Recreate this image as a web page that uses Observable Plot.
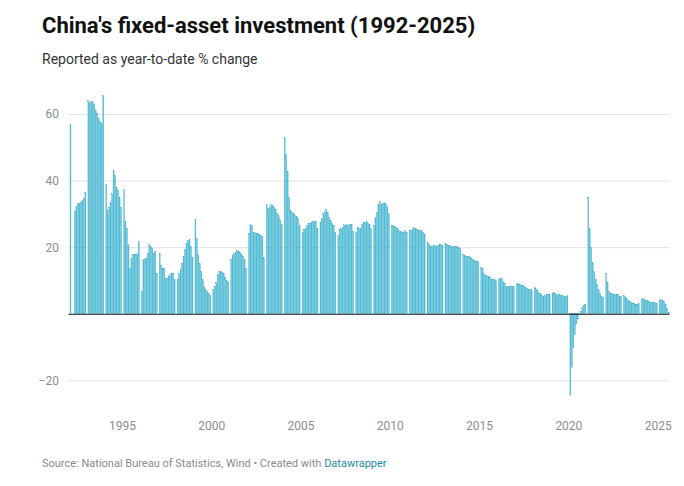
<!DOCTYPE html>
<html>
<head>
<meta charset="utf-8">
<script src="https://cdn.jsdelivr.net/npm/d3@7"></script>
<script src="https://cdn.jsdelivr.net/npm/@observablehq/plot@0.6"></script>
<style>
  html, body { margin: 0; padding: 0; background: #fff; }
  body { width: 684px; height: 486px; position: relative; overflow: hidden; font-family: Roboto, "Noto Sans", sans-serif; }
  #title { position: absolute; left: 42px; top: 14.5px; font-size: 22px; line-height: 22px; font-weight: 700; color: #111; white-space: nowrap; }
  #subtitle { position: absolute; left: 42px; top: 51.5px; font-size: 14px; line-height: 14px; color: #333; white-space: nowrap; }
  #chart { position: absolute; left: 0; top: 80px; }
  #caption { position: absolute; left: 42px; top: 458px; font-size: 11px; line-height: 11px; color: #8a8a8a; white-space: nowrap; }
  #caption span { color: #1f8aa3; }
</style>
</head>
<body>
<div id="title">China's fixed-asset investment (1992-2025)</div>
<div id="subtitle">Reported as year-to-date % change</div>
<div id="chart"></div>
<div id="caption">Source: National Bureau of Statistics, Wind • Created with <span>Datawrapper</span></div>
<script>
// Year-to-date % change, Jan..Dec (null = not reported; Jan is folded into Jan-Feb)
const fai1992 = [null, 57, null, null, 30.8, 32.2, 33, 33.2, 33.5, 34, 34.5, 36.5];
const fai1993 = [null, 64, 63.2, 63.7, 63.7, 62.9, 61.2, 60.2, 58.7, 57.7, 57.2, 65.5];
const fai1994 = [null, 39, 31, 32, 33.5, 36, 43, 41.5, 38, 37, 35, 32];
const fai1995 = [null, 37.2, 27.7, 25.7, 20.7, 13.7, 16.7, 17.9, 17.9, 17.7, 18, 21.7];
const fai1996 = [null, 6.7, 16.2, 16.2, 16.7, 18.2, 20.7, 20.2, 19.7, 18.2, 18.7, 12.2];
const fai1997 = [null, 18.2, 14.5, 13.7, 13.7, 10.7, 10.7, 11.2, 11.7, 12.2, 12.2, 10.2];
const fai1998 = [null, 10.2, 12, 13.2, 15.2, 17.2, 19.2, 21, 22, 22.2, 20.2, 17];
const fai1999 = [null, 28.2, 22.5, 17.7, 15.2, 12.7, 10.2, 8.2, 7.2, 6.7, 6.2, 5.5];
const fai2000 = [null, 7.2, 8.2, 9.5, 11.7, 12.7, 12.7, 12.5, 12.2, 11, 10, 9.5];
const fai2001 = [null, 16.4, 17.4, 18, 18.5, 19, 18.7, 18.5, 17.9, 17.2, 16.2, 13.7];
const fai2002 = [null, 24.2, 26.7, 26.4, 24.4, 24.3, 24.2, 24.2, 23.9, 23.6, 23.2, 16.9];
const fai2003 = [null, 32.7, 31.5, 32, 32.7, 32.5, 32, 31.4, 30.2, 29.4, 28.2, 26.7];
const fai2004 = [null, 53, 47.8, 42.8, 34.8, 31, 30.5, 30.2, 29.5, 29.2, 28.6, 26.6];
const fai2005 = [null, 24.5, 25.3, 25.7, 26.4, 27.1, 27.2, 27.4, 27.7, 27.6, 27.8, 25.7];
const fai2006 = [null, 27.5, 28.5, 30, 30.5, 31.3, 30.5, 29, 28, 27, 26.6, 24.5];
const fai2007 = [null, 23.4, 25.3, 25.5, 25.9, 26.7, 26.6, 26.7, 26.4, 26.9, 26.8, 24.8];
const fai2008 = [null, 24.3, 25.9, 25.7, 25.6, 26.8, 27.3, 27.4, 27.6, 27.2, 26.8, 25.5];
const fai2009 = [null, 26.5, 28.8, 30.5, 32.9, 33.6, 32.9, 33.0, 33.3, 33.1, 32.1, 30.1];
const fai2010 = [null, 26.6, 26.4, 26.1, 25.9, 25.5, 24.9, 24.8, 24.5, 24.4, 24.9, 24.5];
const fai2011 = [null, 24.9, 25.0, 25.4, 25.8, 25.6, 25.4, 25.0, 24.9, 24.9, 24.5, 23.8];
const fai2012 = [null, 21.5, 20.9, 20.2, 20.1, 20.4, 20.4, 20.2, 20.5, 20.7, 20.7, 20.6];
const fai2013 = [null, 21.2, 20.9, 20.6, 20.4, 20.1, 20.1, 20.3, 20.2, 20.1, 19.9, 19.6];
const fai2014 = [null, 17.9, 17.6, 17.3, 17.2, 17.3, 17.0, 16.5, 16.1, 15.9, 15.8, 15.7];
const fai2015 = [null, 13.9, 13.5, 12.0, 11.4, 11.4, 11.2, 10.9, 10.3, 10.2, 10.2, 10.0];
const fai2016 = [null, 10.2, 10.7, 10.5, 9.6, 9.0, 8.1, 8.1, 8.2, 8.3, 8.3, 8.1];
const fai2017 = [null, 8.9, 9.2, 8.9, 8.6, 8.6, 8.3, 7.8, 7.5, 7.3, 7.2, 7.2];
const fai2018 = [null, 7.9, 7.5, 7.0, 6.1, 6.0, 5.5, 5.3, 5.4, 5.7, 5.9, 5.9];
const fai2019 = [null, 6.1, 6.3, 6.1, 5.6, 5.8, 5.7, 5.5, 5.4, 5.2, 5.2, 5.4];
const fai2020 = [null, -24.5, -16.1, -10.3, -6.3, -3.1, -1.6, -0.3, 0.8, 1.8, 2.6, 2.9];
const fai2021 = [null, 35.0, 25.6, 19.9, 15.4, 12.6, 10.3, 8.9, 7.3, 6.1, 5.2, 4.9];
const fai2022 = [null, 12.2, 9.3, 6.8, 6.2, 6.1, 5.7, 5.8, 5.9, 5.8, 5.3, 5.1];
const fai2023 = [null, 5.5, 5.1, 4.7, 4.0, 3.8, 3.4, 3.2, 3.1, 2.9, 2.9, 3.0];
const fai2024 = [null, 4.2, 4.5, 4.2, 4.0, 3.9, 3.6, 3.4, 3.4, 3.4, 3.3, 3.2];
const fai2025 = [null, 4.1, 4.2, 4.0, 3.7, 2.8, 1.6, 0.5];

const yearRows = [
  [1992, fai1992], [1993, fai1993], [1994, fai1994], [1995, fai1995], [1996, fai1996],
  [1997, fai1997], [1998, fai1998], [1999, fai1999], [2000, fai2000], [2001, fai2001],
  [2002, fai2002], [2003, fai2003], [2004, fai2004], [2005, fai2005], [2006, fai2006],
  [2007, fai2007], [2008, fai2008], [2009, fai2009], [2010, fai2010], [2011, fai2011],
  [2012, fai2012], [2013, fai2013], [2014, fai2014], [2015, fai2015], [2016, fai2016],
  [2017, fai2017], [2018, fai2018], [2019, fai2019], [2020, fai2020], [2021, fai2021],
  [2022, fai2022], [2023, fai2023], [2024, fai2024], [2025, fai2025]
];

const xTickYears = [1995, 2000, 2005, 2010, 2015, 2020, 2025];
const yTicks = [60, 40, 20, -20];

const data = [];
for (const [yr, vals] of yearRows) {
  vals.forEach((v, i) => {
    if (v != null) data.push({
      start: new Date(Date.UTC(yr, i, 1)),
      end: new Date(Date.UTC(yr, i + 1, 1)),
      value: v
    });
  });
}
const xTicks = xTickYears.map(y => new Date(Date.UTC(y, 0, 1)));

const chart = Plot.plot({
  width: 684,
  height: 357,
  marginLeft: 68.45,
  marginRight: 14.45,
  marginTop: 14,
  marginBottom: 40,
  style: { fontFamily: "Roboto, 'Noto Sans', sans-serif", background: "transparent" },
  x: { type: "utc", domain: [new Date(Date.UTC(1992, 0, 1)), new Date(Date.UTC(2025, 8, 1))] },
  y: { domain: [-25, 66] },
  marks: [
    Plot.ruleY(yTicks, { stroke: "#e4e4e4", strokeWidth: 1 }),
    Plot.rectY(data, {
      x1: "start", x2: "end", y1: 0, y2: "value",
      fill: "#4cbfda", stroke: "#3aa3bf", strokeWidth: 0.2, insetRight: 0.4
    }),
    Plot.ruleY([0], { stroke: "#111", strokeWidth: 1.1 }),
    Plot.axisY(yTicks, {
      tickSize: 0, tickPadding: 10, fontSize: 12, fill: "#8c8c8c",
      tickFormat: d => d < 0 ? "\u2212" + Math.abs(d) : String(d), label: null
    }),
    Plot.axisX(xTicks, {
      tickSize: 0, tickPadding: 24, fontSize: 12, fill: "#8c8c8c",
      tickFormat: d => String(d.getUTCFullYear()), label: null
    })
  ]
});
document.getElementById("chart").appendChild(chart);
</script>
</body>
</html>
